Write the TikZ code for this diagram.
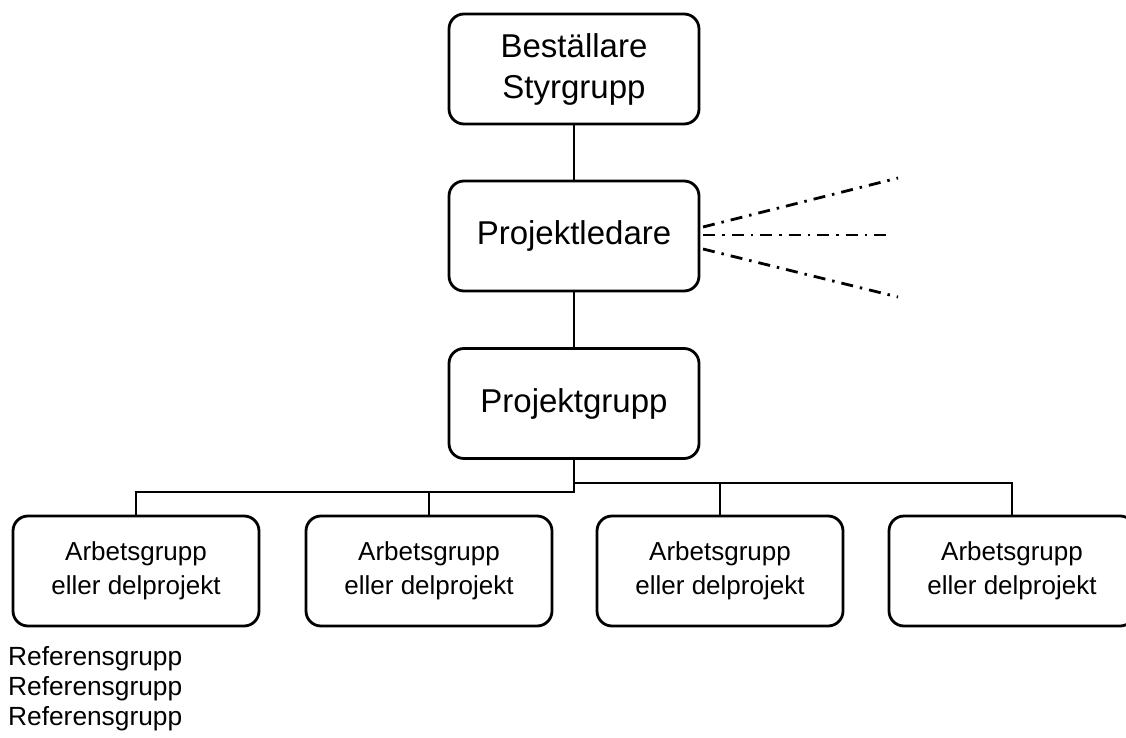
\documentclass[tikz,border=0pt]{standalone}
\usepackage{fontspec}
\setmainfont{Liberation Sans}
\usetikzlibrary{positioning}

\tikzset{
  leadbox/.style={draw, line width=2.8pt, rounded corners=15pt, minimum width=250pt,
    minimum height=110pt, align=center, font=\fontsize{33}{41}\selectfont},
  groupbox/.style={leadbox, minimum width=246pt, font=\fontsize{26}{34}\selectfont},
  link/.style={line width=2.8pt},
  ray/.style={line width=2.8pt, dash pattern=on 12pt off 7pt on 2.5pt off 7pt},
  reftext/.style={anchor=base west, inner sep=0pt, font=\fontsize{26.3}{34}\selectfont},
}

\begin{document}
\begin{tikzpicture}[x=1pt, y=-1pt]
		\useasboundingbox (0,0) rectangle (1126,738);
		\node[leadbox] (best) at (574,69) {Beställare\\Styrgrupp};
		\node[leadbox] (pl) at (574,236) {Projektledare};
		\node[leadbox] (pg) at (574,403.5) {Projektgrupp};
		\node[groupbox] (ag1) at (136,571) {Arbetsgrupp\\eller delprojekt};
		\node[groupbox] (ag2) at (429,571) {Arbetsgrupp\\eller delprojekt};
		\node[groupbox] (ag3) at (720,571) {Arbetsgrupp\\eller delprojekt};
		\node[groupbox] (ag4) at (1012,571) {Arbetsgrupp\\eller delprojekt};
		\draw[link](best)--(pl);
		\draw[link](pl)--(pg);
		% bus below Projektgrupp
		\coordinate (busL) at (574,492);
		\coordinate (busR) at (574,483);
		\draw[link](pg.south)--(busL)-|(ag1);
		\draw[link](busL)-|(ag2);
		\draw[link](busR)-|(ag3);
		\draw[link](busR)-|(ag4);
		% open lines from Projektledare
		\coordinate (rayA) at (703,227);
		\coordinate (rayB) at (703,235);
		\coordinate (rayC) at (703,249);
		\coordinate (endA) at (898,178);
		\coordinate (endB) at (890,235);
		\coordinate (endC) at (898,297);
		\draw[ray](rayA)--(endA);
		\draw[ray](rayB)--(endB);
		\draw[ray](rayC)--(endC);
		\node[reftext] (ref1) at (8,665) {Referensgrupp};
		\node[reftext] (ref2) at (8,695) {Referensgrupp};
		\node[reftext] (ref3) at (8,725) {Referensgrupp};
		\end{tikzpicture}
\end{document}
